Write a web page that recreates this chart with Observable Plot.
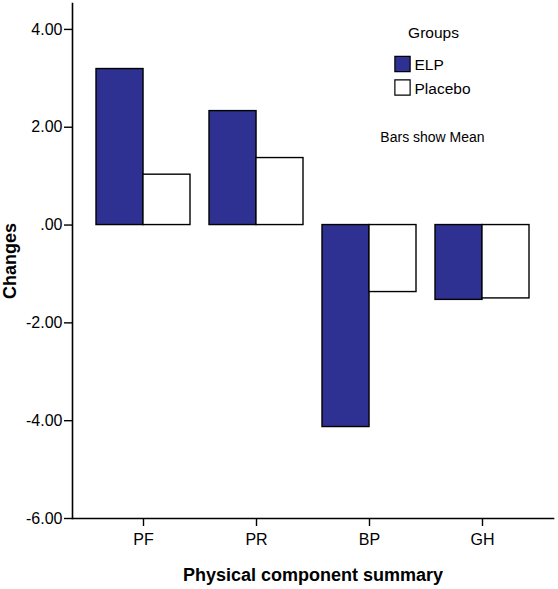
<!DOCTYPE html>
<html>
<head>
<meta charset="utf-8">
<script src="https://cdn.jsdelivr.net/npm/d3@7"></script>
<script src="https://cdn.jsdelivr.net/npm/@observablehq/plot@0.6"></script>
<style>
  html, body { margin: 0; padding: 0; background: #fff; }
</style>
</head>
<body>
<div id="chart"></div>
<script>
const categories = ["PF", "PR", "BP", "GH"];
const groups = ["ELP", "Placebo"];
const groupColors = ["#2E3192", "#FFFFFF"];
const elpValues = [3.19, 2.33, -4.13, -1.53];
const placeboValues = [1.03, 1.37, -1.37, -1.50];
const yTicks = [-6, -4, -2, 0, 2, 4];
const yTickLabels = ["-6.00", "-4.00", "-2.00", ".00", "2.00", "4.00"];
const xTitle = "Physical component summary";
const yTitle = "Changes";
const legendTitle = "Groups";
const note = "Bars show Mean";

const rows = [];
categories.forEach((c, i) => {
  rows.push({category: c, group: groups[0], value: elpValues[i]});
  rows.push({category: c, group: groups[1], value: placeboValues[i]});
});

const paddingInner = 0.17, paddingOuter = 0.21;
const marginLeft = 72, marginRight = 5;
const step = (558 - marginLeft - marginRight) / (categories.length - paddingInner + 2 * paddingOuter);
const half = step * (1 - paddingInner) / 2;

const font = "'Liberation Sans', Arial, sans-serif";

const legendMarks = [];
groups.forEach((g, i) => {
  legendMarks.push(Plot.dot([g], {frameAnchor: "top-left", dx: 330, dy: 60.5 + i * 23.5, symbol: "square", r: 8.6, fill: groupColors[i], stroke: "#000", strokeWidth: 1.2}));
  legendMarks.push(Plot.text([g], {frameAnchor: "top-left", dx: 342, dy: 62 + i * 23.5, textAnchor: "start", lineAnchor: "middle", text: d => d, fontSize: 15.5, fill: "#000"}));
});

const chart = Plot.plot({
  width: 558,
  height: 589,
  marginLeft, marginRight,
  marginTop: 3,
  marginBottom: 71,
  style: {fontFamily: font, fontSize: "16px", color: "#000", background: "#fff"},
  x: {type: "band", domain: categories, paddingInner, paddingOuter, axis: null},
  y: {domain: [-6, 4.53], axis: null},
  color: {domain: groups, range: groupColors},
  marks: [
    Plot.barY(rows.filter(d => d.group === groups[0]), {x: "category", y: "value", fill: "group", stroke: "#000", strokeWidth: 1.4, insetRight: half}),
    Plot.barY(rows.filter(d => d.group === groups[1]), {x: "category", y: "value", fill: "group", stroke: "#000", strokeWidth: 1.4, insetLeft: half}),
    Plot.axisY({ticks: yTicks, tickFormat: d => yTickLabels[yTicks.indexOf(d)], tickSize: 8, tickPadding: 2, label: null, fontSize: 16, strokeWidth: 1.4}),
    Plot.axisX({tickSize: 8, tickPadding: 7, label: null, fontSize: 16, strokeWidth: 1.4}),
    Plot.frame({anchor: "left", stroke: "#000", strokeWidth: 1.6}),
    Plot.frame({anchor: "bottom", stroke: "#000", strokeWidth: 1.6}),
    Plot.text([xTitle], {frameAnchor: "bottom", dy: 57, textAnchor: "middle", lineAnchor: "middle", text: d => d, fontSize: 18, fontWeight: "bold", fill: "#000"}),
    Plot.text([yTitle], {frameAnchor: "left", dx: -62, rotate: -90, textAnchor: "middle", lineAnchor: "middle", text: d => d, fontSize: 18, fontWeight: "bold", fill: "#000"}),
    Plot.text([legendTitle], {frameAnchor: "top-left", dx: 361, dy: 30, textAnchor: "middle", lineAnchor: "middle", text: d => d, fontSize: 15.5, fill: "#000"}),
    ...legendMarks,
    Plot.text([note], {frameAnchor: "top-left", dx: 360, dy: 134, textAnchor: "middle", lineAnchor: "middle", text: d => d, fontSize: 14, fill: "#000"})
  ]
});
document.getElementById("chart").appendChild(chart);
</script>
</body>
</html>
